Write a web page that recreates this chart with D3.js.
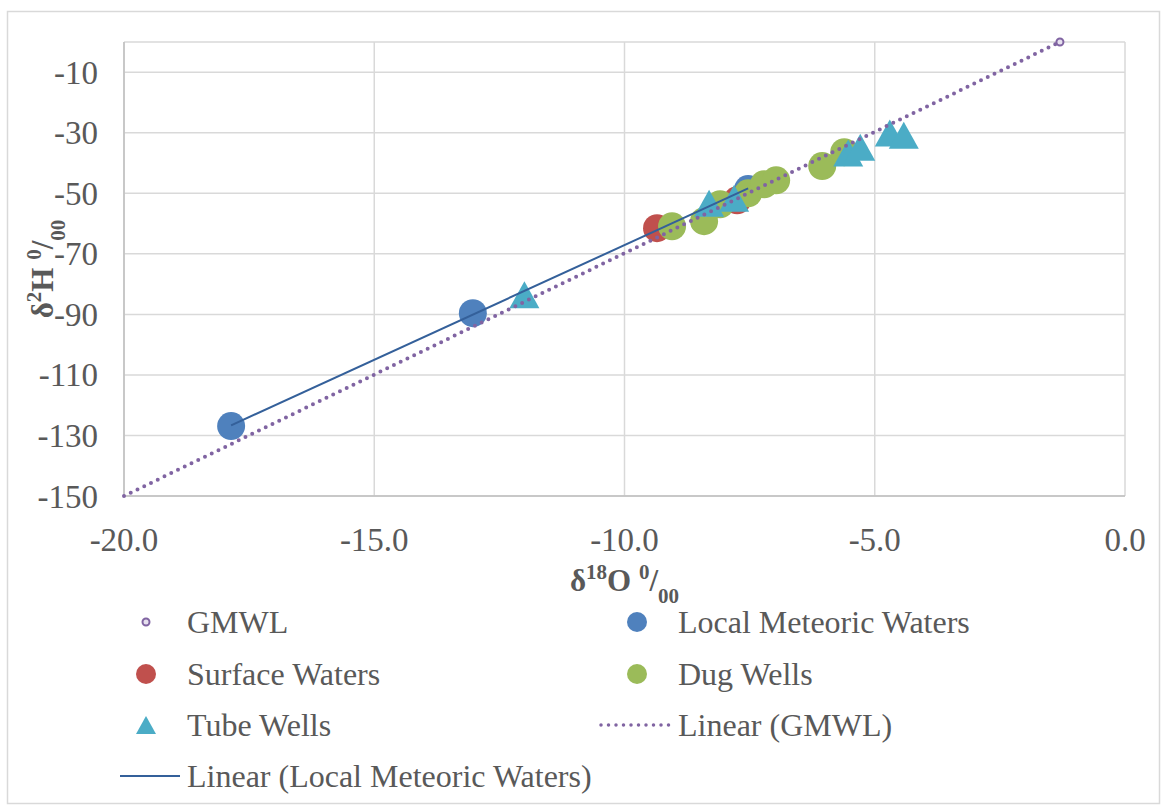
<!DOCTYPE html>
<html lang="en">
  <head>
    <meta charset="utf-8">
    <title>Isotope plot</title>
    <script src="https://d3js.org/d3.v7.min.js"></script>
    <style>
      body { margin: 0; background: #ffffff; }
      svg { display: block; }
      .tick-label { font-family: "Liberation Serif", "Times New Roman", serif; font-size: 33px; fill: #595959; }
      .axis-title { font-family: "Liberation Serif", "Times New Roman", serif; font-size: 31px; font-weight: bold; fill: #595959; }
      .legend-text { font-family: "Liberation Serif", "Times New Roman", serif; font-size: 32px; fill: #595959; }
      .grid { stroke: #d9d9d9; stroke-width: 1.5; }
    </style>
  </head>
  <body>
    <svg id="chart" width="1167" height="808"></svg>
    <script>

    // data
    const xTicks = [-20, -15, -10, -5, 0];
    const yTicks = [-150, -130, -110, -90, -70, -50, -30, -10];

    const gmwlX = [-20, -1.3];
    const gmwlY = [-150, 0];

    const localX = [-17.86, -13.03, -7.53];
    const localY = [-126.9, -89.6, -48.6];

    const surfaceX = [-9.35, -7.75];
    const surfaceY = [-61.5, -52.3];

    const dugX = [-9.05, -8.41, -8.09, -7.53, -7.21, -6.97, -6.05, -5.61];
    const dugY = [-60.9, -59.2, -53.6, -50.0, -47.0, -45.7, -41.0, -36.4];

    const tubeX = [-12.0, -8.31, -7.81, -5.53, -5.29, -4.70, -4.42];
    const tubeY = [-83.5, -53.3, -51.6, -36.7, -34.8, -30.1, -30.8];

    const colors = {
      gmwl: '#8064A2',
      local: '#4F81BD',
      localTrend: '#34609a',
      surface: '#C0504D',
      dug: '#9BBB59',
      tube: '#4BACC6'
    };

    // layout
    const plot = { left: 124, right: 1125, top: 42, bottom: 496 };

    const svg = d3.select('#chart');

    // outer chart border
    svg.append('rect')
      .attr('x', 7.5).attr('y', 11.5)
      .attr('width', 1152).attr('height', 792)
      .attr('fill', 'none')
      .attr('stroke', '#d9d9d9')
      .attr('stroke-width', 1.5);

    const x = d3.scaleLinear().domain([-20, 0]).range([plot.left, plot.right]);
    const y = d3.scaleLinear().domain([-150, 0]).range([plot.bottom, plot.top]);

    // gridlines
    svg.append('g').selectAll('line')
      .data(xTicks)
      .join('line')
      .attr('class', 'grid')
      .attr('x1', d => x(d)).attr('x2', d => x(d))
      .attr('y1', plot.top).attr('y2', plot.bottom);

    svg.append('g').selectAll('line')
      .data(yTicks.concat([0]))
      .join('line')
      .attr('class', 'grid')
      .attr('x1', plot.left).attr('x2', plot.right)
      .attr('y1', d => y(d)).attr('y2', d => y(d));

    // axis lines
    svg.append('line')
      .attr('x1', plot.left).attr('x2', plot.right)
      .attr('y1', plot.bottom).attr('y2', plot.bottom)
      .attr('stroke', '#bfbfbf').attr('stroke-width', 1.5);
    svg.append('line')
      .attr('x1', plot.left).attr('x2', plot.left)
      .attr('y1', plot.top).attr('y2', plot.bottom)
      .attr('stroke', '#bfbfbf').attr('stroke-width', 1.5);

    // tick labels
    svg.append('g').selectAll('text')
      .data(xTicks)
      .join('text')
      .attr('class', 'tick-label')
      .attr('x', d => x(d))
      .attr('y', plot.bottom + 55)
      .attr('text-anchor', 'middle')
      .text(d => d3.format('.1f')(d).replace('−', '-'));

    svg.append('g').selectAll('text')
      .data(yTicks)
      .join('text')
      .attr('class', 'tick-label')
      .attr('x', plot.left - 26)
      .attr('y', d => y(d))
      .attr('dy', '0.35em')
      .attr('text-anchor', 'end')
      .text(d => String(d));

    // axis titles with super/subscripts
    function isoTitle(sel, sup1, letter) {
      sel.append('tspan').text('δ');
      sel.append('tspan').attr('baseline-shift', 'super').attr('font-size', '21px').text(sup1);
      sel.append('tspan').text(letter + ' ');
      sel.append('tspan').attr('baseline-shift', 'super').attr('font-size', '21px').text('0');
      sel.append('tspan').text('/');
      sel.append('tspan').attr('baseline-shift', 'sub').attr('font-size', '21px').text('00');
    }

    svg.append('text')
      .attr('class', 'axis-title')
      .attr('x', (plot.left + plot.right) / 2)
      .attr('y', 591)
      .attr('text-anchor', 'middle')
      .call(isoTitle, '18', 'O');

    svg.append('text')
      .attr('class', 'axis-title')
      .attr('transform', 'translate(53,' + ((plot.top + plot.bottom) / 2) + ') rotate(-90)')
      .attr('text-anchor', 'middle')
      .call(isoTitle, '2', 'H');

    // markers
    const triangle = (cx, cy, w, h) =>
      'M' + cx + ',' + (cy - h / 2) + 'L' + (cx + w / 2) + ',' + (cy + h / 2) + 'L' + (cx - w / 2) + ',' + (cy + h / 2) + 'Z';

    function circles(xs, ys, color) {
      svg.append('g').selectAll('circle')
        .data(xs.map((d, i) => [d, ys[i]]))
        .join('circle')
        .attr('cx', d => x(d[0]))
        .attr('cy', d => y(d[1]))
        .attr('r', 14)
        .attr('fill', color);
    }

    circles(localX, localY, colors.local);
    circles(surfaceX, surfaceY, colors.surface);
    circles(dugX, dugY, colors.dug);

    svg.append('g').selectAll('path')
      .data(tubeX.map((d, i) => [d, tubeY[i]]))
      .join('path')
      .attr('d', d => triangle(x(d[0]), y(d[1]), 30, 27))
      .attr('fill', colors.tube);

    // GMWL markers (only the one inside the plot is visible)
    svg.append('g').selectAll('circle')
      .data(gmwlX.map((d, i) => [d, gmwlY[i]]).filter(d => d[0] > -20))
      .join('circle')
      .attr('cx', d => x(d[0]))
      .attr('cy', d => y(d[1]))
      .attr('r', 3.5)
      .attr('fill', '#e6e0ee')
      .attr('stroke', colors.gmwl)
      .attr('stroke-width', 2);

    // trendlines (least squares)
    function linreg(xs, ys) {
      const mx = d3.mean(xs), my = d3.mean(ys);
      const sxy = d3.sum(xs, (d, i) => (d - mx) * (ys[i] - my));
      const sxx = d3.sum(xs, d => (d - mx) * (d - mx));
      const b = sxy / sxx;
      return { b: b, a: my - b * mx };
    }

    const line = d3.line().x(d => x(d[0])).y(d => y(d[1]));

    const gFit = linreg(gmwlX, gmwlY);
    const gExt = d3.extent(gmwlX);
    svg.append('path')
      .attr('d', line(gExt.map(v => [v, gFit.a + gFit.b * v])))
      .attr('fill', 'none')
      .attr('stroke', colors.gmwl)
      .attr('stroke-width', 4)
      .attr('stroke-linecap', 'round')
      .attr('stroke-dasharray', '0,7.5');

    const lFit = linreg(localX, localY);
    const lExt = d3.extent(localX);
    svg.append('path')
      .attr('d', line(lExt.map(v => [v, lFit.a + lFit.b * v])))
      .attr('fill', 'none')
      .attr('stroke', colors.localTrend)
      .attr('stroke-width', 2);

    // legend
    const legendItems = [
      { label: 'GMWL', type: 'gmwl', col: 0, row: 0 },
      { label: 'Local Meteoric Waters', type: 'local', col: 1, row: 0 },
      { label: 'Surface Waters', type: 'surface', col: 0, row: 1 },
      { label: 'Dug Wells', type: 'dug', col: 1, row: 1 },
      { label: 'Tube Wells', type: 'tube', col: 0, row: 2 },
      { label: 'Linear (GMWL)', type: 'gmwlTrend', col: 1, row: 2 },
      { label: 'Linear (Local Meteoric Waters)', type: 'localTrend', col: 0, row: 3 }
    ];

    const colX = [146, 637];
    const rowY = [622, 674, 725, 776];

    const leg = svg.append('g').selectAll('g')
      .data(legendItems)
      .join('g')
      .attr('transform', d => 'translate(' + colX[d.col] + ',' + rowY[d.row] + ')');

    leg.each(function(d) {
      const g = d3.select(this);
      if (d.type === 'gmwl') {
        g.append('circle').attr('r', 3.5).attr('fill', '#e6e0ee')
          .attr('stroke', colors.gmwl).attr('stroke-width', 2);
      } else if (d.type === 'tube') {
        g.append('path').attr('d', triangle(0, 0, 20, 18)).attr('fill', colors.tube);
      } else if (d.type === 'gmwlTrend') {
        g.append('line').attr('x1', -36).attr('x2', 34)
          .attr('stroke', colors.gmwl).attr('stroke-width', 3.5)
          .attr('stroke-linecap', 'round').attr('stroke-dasharray', '0,7.5');
      } else if (d.type === 'localTrend') {
        g.append('line').attr('x1', -26).attr('x2', 34)
          .attr('stroke', colors.localTrend).attr('stroke-width', 2);
      } else {
        g.append('circle').attr('r', 10).attr('fill', colors[d.type]);
      }
      g.append('text')
        .attr('class', 'legend-text')
        .attr('x', 41)
        .attr('dy', '0.35em')
        .text(d.label);
    });

    </script>
  </body>
</html>
